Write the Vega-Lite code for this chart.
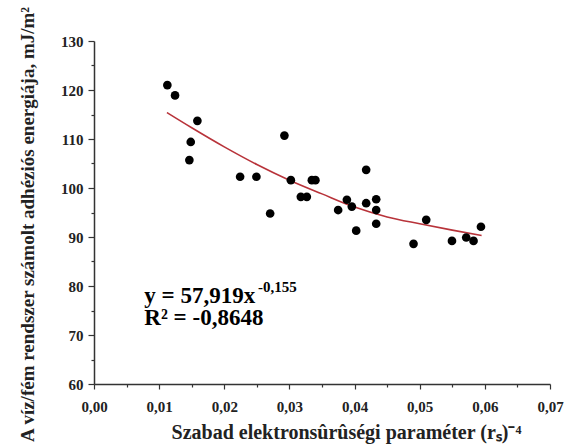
{
  "$schema": "https://vega.github.io/schema/vega-lite/v6.json",
  "width": 456,
  "height": 343,
  "autosize": "none",
  "padding": {"left": 94, "top": 41, "right": 25, "bottom": 63},
  "background": "white",
  "config": {
    "view": {"stroke": null},
    "font": "Liberation Serif"
  },
  "datasets": {
    "pts": [
      {"x": 0.01126, "y": 121.0},
      {"x": 0.01244, "y": 118.9},
      {"x": 0.01587, "y": 113.7},
      {"x": 0.01485, "y": 109.4},
      {"x": 0.01464, "y": 105.7},
      {"x": 0.02243, "y": 102.3},
      {"x": 0.02493, "y": 102.3},
      {"x": 0.02704, "y": 94.8},
      {"x": 0.02923, "y": 110.7},
      {"x": 0.03022, "y": 101.6},
      {"x": 0.03175, "y": 98.2},
      {"x": 0.03267, "y": 98.2},
      {"x": 0.03344, "y": 101.6},
      {"x": 0.03399, "y": 101.6},
      {"x": 0.03748, "y": 95.5},
      {"x": 0.03882, "y": 97.6},
      {"x": 0.03958, "y": 96.2},
      {"x": 0.04025, "y": 91.3},
      {"x": 0.04178, "y": 103.7},
      {"x": 0.04178, "y": 96.9},
      {"x": 0.04332, "y": 97.7},
      {"x": 0.04332, "y": 95.5},
      {"x": 0.04332, "y": 92.7},
      {"x": 0.04905, "y": 88.6},
      {"x": 0.0510, "y": 93.5},
      {"x": 0.05495, "y": 89.2},
      {"x": 0.05714, "y": 89.9},
      {"x": 0.05826, "y": 89.2},
      {"x": 0.0594, "y": 92.1}
    ],
    "curve": [
      {"x": 0.0112, "y": 115.4},
      {"x": 0.015, "y": 112.3},
      {"x": 0.02, "y": 108.4},
      {"x": 0.025, "y": 104.8},
      {"x": 0.03, "y": 101.6},
      {"x": 0.035, "y": 98.8},
      {"x": 0.04, "y": 96.1},
      {"x": 0.045, "y": 94.1},
      {"x": 0.05, "y": 92.7},
      {"x": 0.055, "y": 91.4},
      {"x": 0.0595, "y": 90.3}
    ],
    "eq": [
      {"x": 0.00773, "y": 76.6, "t": "y = 57,919x"},
      {"x": 0.00773, "y": 72.0, "t": "R² = -0,8648"}
    ],
    "sup": [
      {"x": 0.02519, "y": 78.8, "t": "-0,155"}
    ]
  },
  "encoding": {
    "x": {
      "field": "x",
      "type": "quantitative",
      "scale": {"domain": [0, 0.07], "nice": false, "zero": false},
      "axis": {
        "values": [0, 0.005, 0.01, 0.015, 0.02, 0.025, 0.03, 0.035, 0.04, 0.045, 0.05, 0.055, 0.06, 0.065, 0.07],
        "labelExpr": "abs(round(datum.value*100) - datum.value*100) < 0.001 ? replace(format(datum.value, '.2f'), '.', ',') : ''",
        "grid": false,
        "domainColor": "#333333",
        "domainWidth": 1.5,
        "tickColor": "#333333",
        "tickWidth": 1.2,
        "tickSize": {"condition": {"test": "abs(round(datum.value*100) - datum.value*100) < 0.001", "value": 5}, "value": 3},
        "labelPadding": 10,
        "labelFont": "Liberation Serif",
        "labelFontWeight": "bold",
        "labelFontSize": 15,
        "labelColor": "#222222",
        "labelFlush": false,
        "title": "Szabad elektronsûrûségi paraméter (rₛ)⁻⁴",
        "titleFont": "Liberation Serif",
        "titleFontWeight": "bold",
        "titleFontSize": 20,
        "titleColor": "#222222",
        "titleX": 252,
        "titleY": 54,
        "titleAnchor": "middle",
        "titleBaseline": "alphabetic"
      }
    },
    "y": {
      "field": "y",
      "type": "quantitative",
      "scale": {"domain": [60, 130], "nice": false, "zero": false},
      "axis": {
        "values": [60, 65, 70, 75, 80, 85, 90, 95, 100, 105, 110, 115, 120, 125, 130],
        "labelExpr": "datum.value % 10 == 0 ? format(datum.value, 'd') : ''",
        "grid": false,
        "domainColor": "#333333",
        "domainWidth": 1.5,
        "tickColor": "#333333",
        "tickWidth": 1.2,
        "tickSize": {"condition": {"test": "datum.value % 10 == 0", "value": 6}, "value": 3},
        "labelPadding": 5,
        "labelFont": "Liberation Serif",
        "labelFontWeight": "bold",
        "labelFontSize": 15,
        "labelColor": "#222222",
        "labelFlush": false,
        "title": "A víz/fém rendszer számolt adhéziós energiája, mJ/m²",
        "titleFont": "Liberation Serif",
        "titleFontWeight": "bold",
        "titleFontSize": 19,
        "titleColor": "#222222",
        "titleAngle": -90,
        "titleX": -67,
        "titleY": 183,
        "titleAlign": "center",
        "titleBaseline": "middle"
      }
    }
  },
  "layer": [
    {
      "data": {"name": "curve"},
      "mark": {"type": "line", "color": "#b8333a", "strokeWidth": 1.6, "interpolate": "monotone"}
    },
    {
      "data": {"name": "pts"},
      "mark": {"type": "point", "filled": true, "color": "#000000", "opacity": 1, "size": 75}
    },
    {
      "data": {"name": "eq"},
      "mark": {"type": "text", "align": "left", "baseline": "alphabetic", "font": "Liberation Serif", "fontWeight": "bold", "fontSize": 23, "color": "#000000"},
      "encoding": {"text": {"field": "t"}}
    },
    {
      "data": {"name": "sup"},
      "mark": {"type": "text", "align": "left", "baseline": "alphabetic", "font": "Liberation Serif", "fontWeight": "bold", "fontSize": 15, "color": "#000000"},
      "encoding": {"text": {"field": "t"}}
    }
  ]
}
